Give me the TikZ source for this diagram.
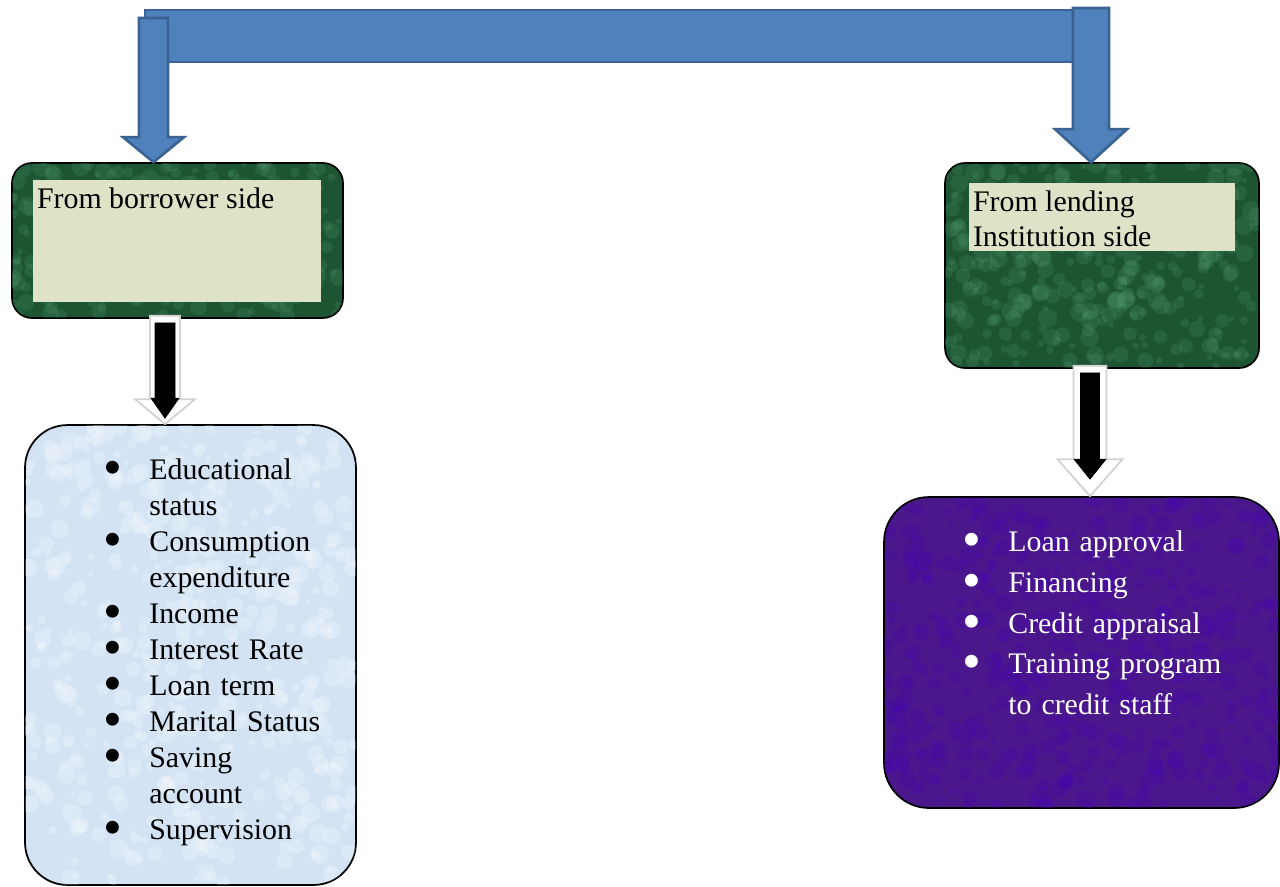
\documentclass[tikz,border=0pt]{standalone}
\usepackage{fontspec}
\setmainfont{Liberation Serif}
\usepackage{enumitem}
\usetikzlibrary{calc}

\definecolor{arrblue}{HTML}{4F81BD}
\definecolor{arrblueline}{HTML}{3A6391}
\definecolor{marble}{HTML}{1D5533}
\definecolor{marblelight}{HTML}{5BA67A}
\definecolor{labelbeige}{HTML}{DEE3C8}
\definecolor{icyblue}{HTML}{D3E3F4}
\definecolor{velvet}{HTML}{4A188A}

\tikzset{
  greenbox/.style={draw=black, line width=1pt, fill=marble, rounded corners=0.4cm, inner sep=0},
  icybox/.style={draw=black, line width=1pt, fill=icyblue, rounded corners=0.85cm, inner sep=0},
  velvetbox/.style={draw=black, line width=1pt, fill=velvet, rounded corners=0.9cm, inner sep=0},
  labelbox/.style={fill=labelbeige, inner sep=0},
  labeltxt/.style={inner xsep=0.08cm, inner ysep=0.16cm, align=left, font=\fontsize{17}{19.8}\selectfont},
  listtxt/.style={inner sep=0, anchor=north west},
  bluearrow/.style={fill=arrblue, draw=arrblueline, line width=1.5pt, line join=miter},
  hollowarrow/.style={fill=white, draw=gray!35, line width=1pt},
  solidarrow/.style={fill=black},
  greenvein/.style={fill=marblelight, opacity=0.18},
  icyvein/.style={fill=white, opacity=0.22},
  velvetvein/.style={fill=violet!55!blue, opacity=0.22}
}

% block arrow pointing down: style, start, tip, half shaft, half head, head length
\newcommand\downblock[6]{%
  \path #2 coordinate (blkS);
  \path #3 coordinate (blkE);
  \draw[#1] let \p1=(blkS), \p2=(blkE) in
    (\x1-#4,\y1) -- (\x1+#4,\y1) -- (\x1+#4,\y2+#6) -- (\x1+#5,\y2+#6)
    -- (\x1,\y2) -- (\x1-#5,\y2+#6) -- (\x1-#4,\y2+#6) -- cycle;
}

% mottled texture inside a box: node, style, count, width, height, radius
\newcommand\speckle[6]{%
  \begin{scope}
    \clip[rounded corners=#6] ($(#1.south west)+(1,-1)$) rectangle ($(#1.north east)+(-1,1)$);
    \foreach \k in {1,...,#3}
      \fill[#2] ($(#1.north west)+({rnd*#4},{rnd*#5})$) circle [radius={1.5pt+rnd*4pt}];
  \end{scope}}

\newcommand\bigdot{\raisebox{-0.2em}{\scalebox{1.8}{\textbullet}}}

\begin{document}
\begin{tikzpicture}[x=0.02cm, y=-0.02cm]
\pgfmathsetseed{11}
\useasboundingbox (0,0) rectangle (1280,886);

% borrower side
\node[greenbox, minimum width=6.62cm, minimum height=3.1cm] (borrower) at (177.5,240.5) {};
\speckle{borrower}{greenvein}{260}{331}{155}{0.4cm}
\node[labelbox, minimum width=5.76cm, minimum height=2.44cm] (borrowerlbl) at (177,241) {};
\node[labeltxt, anchor=north west] (borrowertxt) at (borrowerlbl.north west) {From borrower side};

% lending side
\node[greenbox, minimum width=6.28cm, minimum height=4.1cm] (lender) at (1102,265.5) {};
\speckle{lender}{greenvein}{340}{314}{205}{0.4cm}
\node[labelbox, minimum width=5.32cm, minimum height=1.36cm] (lenderlbl) at (1102,217) {};
\node[labeltxt, anchor=north west] (lendertxt) at (lenderlbl.north west) {From lending\\Institution side};

% borrower factors
\node[icybox, minimum width=6.62cm, minimum height=9.2cm] (factors) at (190.5,655) {};
\speckle{factors}{icyvein}{500}{331}{460}{0.85cm}
\node[listtxt, text width=5cm, font=\fontsize{17}{20.5}\selectfont] (factorlist) at (99,443) {%
  \begin{itemize}[label=\bigdot, leftmargin=1cm, labelsep=0.55cm, itemsep=0pt, topsep=0pt, parsep=0pt, partopsep=0pt]\raggedright
    \item Educational\newline status
    \item Consumption\newline expenditure
    \item Income
    \item Interest Rate
    \item Loan term
    \item Marital Status
    \item Saving\newline account
    \item Supervision
  \end{itemize}};

% lending services
\node[velvetbox, minimum width=7.9cm, minimum height=6.22cm] (services) at (1081.5,652.5) {};
\speckle{services}{velvetvein}{450}{395}{311}{0.9cm}
\node[listtxt, text width=6cm, text=white, font=\fontsize{17}{23.1}\selectfont] (servicelist) at (958,511) {%
  \begin{itemize}[label=\bigdot, leftmargin=1cm, labelsep=0.55cm, itemsep=0pt, topsep=0pt, parsep=0pt, partopsep=0pt]\raggedright
    \item Loan approval
    \item Financing
    \item Credit appraisal
    \item Training program\newline to credit staff
  \end{itemize}};

% top bracket arrow
\draw[bluearrow] (145,10) rectangle (1080,62);
\downblock{bluearrow}{(153.5,18)}{(153.5,0 |- borrower.north)}{0.29cm}{0.61cm}{0.5cm}
\downblock{bluearrow}{(1091,8)}{(1091,0 |- lender.north)}{0.36cm}{0.72cm}{0.66cm}

% arrows down to the lists
\downblock{hollowarrow}{($(165,0 |- borrower.south)+(0,-3)$)}{(165,0 |- factors.north)}{0.3cm}{0.6cm}{0.5cm}
\downblock{solidarrow}{($(165,0 |- borrower.south)+(0,4)$)}{($(165,0 |- factors.north)+(0,-6)$)}{0.2cm}{0.28cm}{0.4cm}
\downblock{hollowarrow}{($(1090,0 |- lender.south)+(0,-3)$)}{(1090,0 |- services.north)}{0.33cm}{0.65cm}{0.74cm}
\downblock{solidarrow}{($(1090,0 |- lender.south)+(0,4)$)}{($(1090,0 |- services.north)+(0,-17)$)}{0.19cm}{0.32cm}{0.4cm}
\end{tikzpicture}
\end{document}
